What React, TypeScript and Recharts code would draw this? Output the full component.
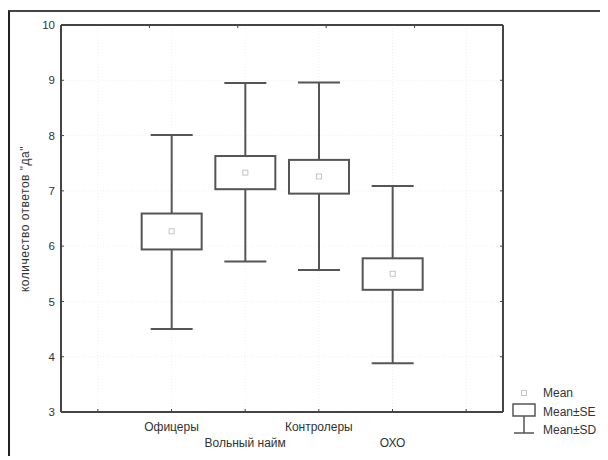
import React from "react";
import { Bar, CartesianGrid, ComposedChart, XAxis, YAxis } from "recharts";

const categories = ["Офицеры", "Вольный найм", "Контролеры", "ОХО"];
const means = [6.27, 7.33, 7.26, 5.5];
const seLow = [5.94, 7.03, 6.95, 5.21];
const seHigh = [6.59, 7.63, 7.56, 5.78];
const sdLow = [4.5, 5.72, 5.57, 3.88];
const sdHigh = [8.01, 8.95, 8.96, 7.09];
const yTicks = [3, 4, 5, 6, 7, 8, 9, 10];
const topTicks = [0, 1, 2, 3, 4, 5];
const legendLabels = ["Mean", "Mean±SE", "Mean±SD"];
const yLabel = "количество ответов \"да\"";

interface Row {
  name: string;
  mean: number | null;
  se: [number, number] | null;
  sd: [number, number] | null;
}

const blank: Row = { name: "", mean: null, se: null, sd: null };
const data: Row[] = [
  blank,
  ...categories.map((name, i) => ({
    name,
    mean: means[i],
    se: [seLow[i], seHigh[i]] as [number, number],
    sd: [sdLow[i], sdHigh[i]] as [number, number],
  })),
  { ...blank },
];

const LINE = "#555";
const TEXT = "#333";
const FONT = "'Liberation Sans', Arial, sans-serif";

function BoxShape(props: any) {
  const { x, y, width, height, payload } = props;
  if (!payload || !payload.sd) return null;
  const [lo, hi] = payload.sd;
  const top = Math.min(y, y + height);
  const bottom = Math.max(y, y + height);
  const py = (v: number) => bottom - ((v - lo) * (bottom - top)) / (hi - lo);
  const cx = x + width / 2;
  const cap = 21;
  const boxTop = py(payload.se[1]);
  const boxBottom = py(payload.se[0]);
  const my = py(payload.mean);
  return (
    <g>
      <line x1={cx} x2={cx} y1={top} y2={bottom} stroke={LINE} strokeWidth={2} />
      <line x1={cx - cap} x2={cx + cap} y1={top} y2={top} stroke={LINE} strokeWidth={2} />
      <line x1={cx - cap} x2={cx + cap} y1={bottom} y2={bottom} stroke={LINE} strokeWidth={2} />
      <rect x={x} y={boxTop} width={width} height={boxBottom - boxTop} fill="#fff" stroke={LINE} strokeWidth={2} />
      <rect x={cx - 2.5} y={my - 2.5} width={5} height={5} fill="none" stroke="#c4c4c4" strokeWidth={1} />
    </g>
  );
}

function CategoryTick(props: any) {
  const { x, y, payload, index } = props;
  if (!payload.value) return <g />;
  const dy = index % 2 === 1 ? 19 : 35;
  return (
    <text x={x} y={y + dy} textAnchor="middle" fill={TEXT} fontSize={12} fontFamily={FONT}>
      {payload.value}
    </text>
  );
}

function Legend() {
  return (
    <svg width={94} height={60} style={{ position: "absolute", left: 500, top: 375 }}>
      <rect x={11.5} y={3.5} width={5} height={5} fill="none" stroke="#c4c4c4" strokeWidth={1} />
      <rect x={3} y={17} width={22} height={12} fill="#fff" stroke={LINE} strokeWidth={1.5} />
      <line x1={14} x2={14} y1={29} y2={46} stroke={LINE} strokeWidth={1.5} />
      <line x1={4} x2={24} y1={46} y2={46} stroke={LINE} strokeWidth={1.5} />
      {legendLabels.map((label, i) => (
        <text key={label} x={33} y={10 + i * 18.5} fill={TEXT} fontSize={12} fontFamily={FONT}>
          {label}
        </text>
      ))}
    </svg>
  );
}

export default function App() {
  return (
    <div style={{ position: "relative", top: 2 }}>
      <div
        style={{
          position: "relative",
          width: 595,
          height: 445,
          borderLeft: "2px solid #222",
          borderTop: "2px solid #444",
          borderRight: "1px solid #ddd",
          borderBottom: "1px solid #ddd",
          background: "#fff",
        }}
      >
        <ComposedChart
          width={594}
          height={444}
          data={data}
          margin={{ top: 12, right: 100, left: 0, bottom: 0 }}
        >
          <CartesianGrid stroke="#f0f0f0" strokeDasharray="1 2" />
          <XAxis
            dataKey="name"
            height={44}
            interval={0}
            axisLine={{ stroke: "#444", strokeWidth: 2 }}
            tickLine={{ stroke: "#444" }}
            tickSize={-3}
            tickMargin={3}
            tick={<CategoryTick />}
          />
          <XAxis
            xAxisId="top"
            orientation="top"
            type="number"
            domain={[-0.5, 5.5]}
            allowDataOverflow
            ticks={topTicks}
            height={1}
            axisLine={{ stroke: "#444", strokeWidth: 2 }}
            tickLine={{ stroke: "#444" }}
            tickSize={-3}
            tick={() => <g />}
          />
          <YAxis
            type="number"
            domain={[3, 10]}
            allowDataOverflow
            ticks={yTicks}
            width={51}
            axisLine={{ stroke: "#444", strokeWidth: 2 }}
            tickLine={{ stroke: "#444" }}
            tickSize={-3}
            tickMargin={9}
            tick={{ fill: TEXT, fontSize: 11.5, fontFamily: FONT }}
          />
          <YAxis
            yAxisId="right"
            orientation="right"
            type="number"
            domain={[3, 10]}
            allowDataOverflow
            ticks={yTicks}
            width={1}
            axisLine={{ stroke: "#444", strokeWidth: 2 }}
            tickLine={{ stroke: "#444" }}
            tickSize={-3}
            tick={() => <g />}
          />
          <Bar
            dataKey="sd"
            barSize={60}
            shape={<BoxShape />}
            isAnimationActive={false}
          />
        </ComposedChart>
        <div
          style={{
            position: "absolute",
            left: 15,
            top: 207,
            transform: "translate(-50%, -50%) rotate(-90deg)",
            whiteSpace: "nowrap",
            fontFamily: FONT,
            fontSize: 12,
            letterSpacing: 0.5,
            color: TEXT,
          }}
        >
          {yLabel}
        </div>
        <Legend />
      </div>
    </div>
  );
}
